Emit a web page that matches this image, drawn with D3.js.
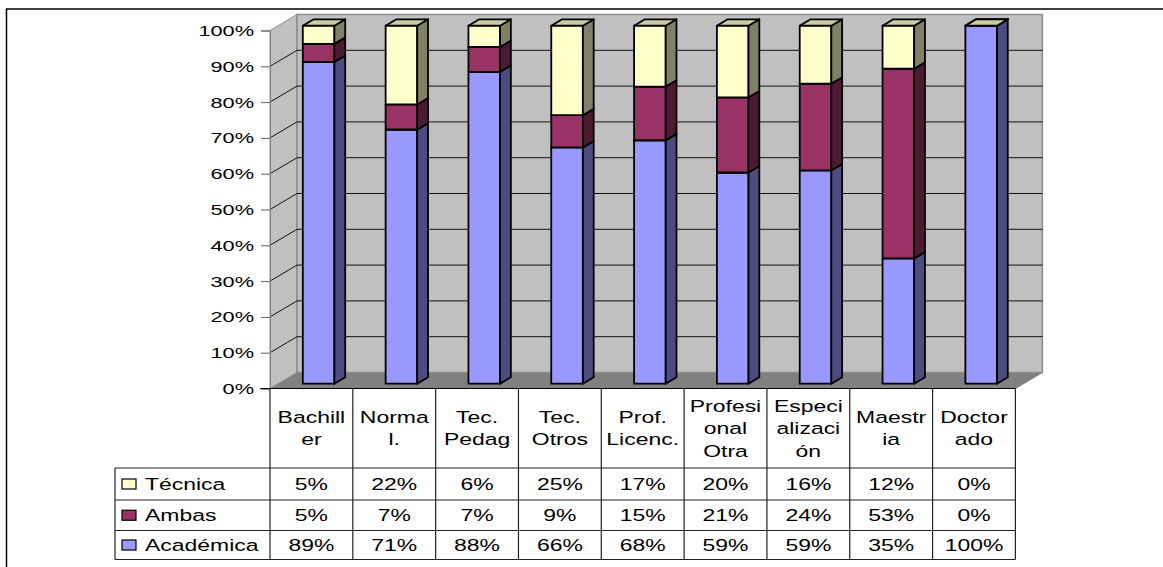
<!DOCTYPE html>
<html>
<head>
<meta charset="utf-8">
<script src="https://cdn.jsdelivr.net/npm/d3@7"></script>
<style>
  html, body { margin: 0; padding: 0; background: #fff; }
  svg { display: block; }
  text { font-family: "Liberation Sans", Arial, sans-serif; fill: #000; }
</style>
</head>
<body>
<svg id="chart" width="1163" height="567"></svg>
<script>
// ---------- data ----------
const categories = [
  ["Bachill", "er"], ["Norma", "l."], ["Tec.", "Pedag"], ["Tec.", "Otros"],
  ["Prof.", "Licenc."], ["Profesi", "onal", "Otra"], ["Especi", "alizaci", "ón"],
  ["Maestr", "ia"], ["Doctor", "ado"]
];
const seriesNames = ["Técnica", "Ambas", "Académica"];
const tecnica   = [5, 22, 6, 25, 17, 20, 16, 12, 0];
const ambas     = [5, 7, 7, 9, 15, 21, 24, 53, 0];
const academica = [89, 71, 88, 66, 68, 59, 59, 35, 100];
const yTicks = [0, 10, 20, 30, 40, 50, 60, 70, 80, 90, 100];

// ---------- layout ----------
const svg = d3.select("#chart");
const X0 = 270, X1 = 1015.4;
const Y0 = 388.5, Y1 = 30.5;
const DX = 27, DY = -16;          // wall depth
const FB = 0.30, BB = 0.70;       // bar front/back depth fractions

const colors = {
  "Académica": { front: "#9999FF", side: "#4C4C80", top: "#7A7ACC" },
  "Ambas":     { front: "#993366", side: "#4D1A33", top: "#7A2952" },
  "Técnica":   { front: "#FFFFCC", side: "#808066", top: "#CCCCA3" }
};

const idx = d3.range(categories.length);
const x = d3.scaleBand().domain(idx).range([X0, X1]).padding(0);
const y = d3.scaleLinear().domain([0, 100]).range([Y0, Y1]);

// outer frame
svg.append("path").attr("d", "M6.5,567 L6.5,9 L1163,9")
  .attr("fill", "none").attr("stroke", "#000").attr("stroke-width", 1.5);

// ---------- walls ----------
const pts = a => a.map(p => p.join(",")).join(" ");
svg.append("polygon")
  .attr("points", pts([[X0, Y0], [X1, Y0], [X1 + DX, Y0 + DY], [X0 + DX, Y0 + DY]]))
  .attr("fill", "#808080").attr("stroke", "#808080");
svg.append("polygon")
  .attr("points", pts([[X0, Y0], [X0, Y1], [X0 + DX, Y1 + DY], [X0 + DX, Y0 + DY]]))
  .attr("fill", "#C0C0C0").attr("stroke", "#8c8c8c");
svg.append("rect")
  .attr("x", X0 + DX).attr("y", Y1 + DY)
  .attr("width", X1 - X0).attr("height", Y0 - Y1)
  .attr("fill", "#C0C0C0").attr("stroke", "#8c8c8c").attr("stroke-width", 1.5);

// gridlines
const gridVals = yTicks.filter(v => v > 0 && v < 100);
svg.append("g").selectAll("path").data(gridVals).join("path")
  .attr("d", v => `M${X0},${y(v)} L${X0 + DX},${y(v) + DY} L${X1 + DX},${y(v) + DY}`)
  .attr("fill", "none").attr("stroke", "#111").attr("stroke-width", 1);

// y axis
const axisG = svg.append("g").attr("transform", `translate(${X0},0)`)
  .call(d3.axisLeft(y).tickValues(yTicks).tickSize(9).tickFormat(""));
axisG.select(".domain").attr("stroke", "#808080");
axisG.selectAll(".tick line").attr("stroke", "#606060");

function stretched(g, tx, ty, str, size, sx, anchor) {
  return g.append("text")
    .attr("transform", `translate(${tx},${ty}) scale(${sx},1)`)
    .attr("text-anchor", anchor)
    .style("font-size", size + "px")
    .text(str);
}
const labG = svg.append("g");
yTicks.forEach(v => stretched(labG, 254, y(v) + 5.5, v + "%", 15, 1.45, "end"));

// ---------- bars ----------
const rows = idx.map(i => ({ i, "Académica": academica[i], "Ambas": ambas[i], "Técnica": tecnica[i] }));
const stack = d3.stack().keys(["Académica", "Ambas", "Técnica"]).offset(d3.stackOffsetExpand);
const stacked = stack(rows);

const barG = svg.append("g");
const bfx = FB * DX, bfy = FB * DY, bbx = BB * DX, bby = BB * DY;
idx.forEach(i => {
  const xl = x(i) + 24.7 + bfx, xr = xl + 31.6;
  const ddx = bbx - bfx, ddy = bby - bfy;
  stacked.forEach(s => {
    const c = colors[s.key];
    const yb = y(s[i][0] * 100) + bfy, yt = y(s[i][1] * 100) + bfy;
    const st = { stroke: "#000", "stroke-width": 1.8, "stroke-linejoin": "round" };
    const front = barG.append("rect").attr("x", xl).attr("y", yt)
      .attr("width", xr - xl).attr("height", yb - yt).attr("fill", c.front);
    const side = barG.append("polygon")
      .attr("points", pts([[xr, yb], [xr, yt], [xr + ddx, yt + ddy], [xr + ddx, yb + ddy]]))
      .attr("fill", c.side);
    const top = barG.append("polygon")
      .attr("points", pts([[xl, yt], [xr, yt], [xr + ddx, yt + ddy], [xl + ddx, yt + ddy]]))
      .attr("fill", c.top);
    [front, side, top].forEach(el => Object.entries(st).forEach(([k, v]) => el.attr(k, v)));
  });
});

// ---------- data table ----------
const tbl = svg.append("g");
const LX = 115;
const rowY = [468, 500, 530.5, 559.5];
const lineCol = "#222";
d3.range(categories.length + 1).forEach(k => {
  const xx = k < categories.length ? x(k) : X1;
  tbl.append("line").attr("x1", xx).attr("x2", xx).attr("y1", Y0).attr("y2", rowY[3])
    .attr("stroke", lineCol).attr("stroke-width", 1.2);
});
tbl.append("line").attr("x1", X0 - 10).attr("x2", X1).attr("y1", Y0).attr("y2", Y0)
  .attr("stroke", "#000").attr("stroke-width", 1.2);
rowY.forEach(yy => tbl.append("line").attr("x1", LX).attr("x2", X1).attr("y1", yy).attr("y2", yy)
  .attr("stroke", lineCol).attr("stroke-width", 1.2));
tbl.append("line").attr("x1", LX).attr("x2", LX).attr("y1", rowY[0]).attr("y2", rowY[3])
  .attr("stroke", lineCol).attr("stroke-width", 1.2);

// header text
const TS = 17, TSX = 1.35;
categories.forEach((lines, i) => {
  const cx = x(i) + x.bandwidth() / 2;
  const n = lines.length;
  lines.forEach((ln, k) => {
    stretched(tbl, cx, 428 + 6 + (k - (n - 1) / 2) * 22.5, ln, TS, TSX, "middle");
  });
});

// rows
const seriesVals = { "Técnica": tecnica, "Ambas": ambas, "Académica": academica };
seriesNames.forEach((name, r) => {
  const cy = (rowY[r] + rowY[r + 1]) / 2;
  tbl.append("rect").attr("x", 122).attr("y", cy - 5).attr("width", 14).attr("height", 10)
    .attr("fill", colors[name].front).attr("stroke", "#000").attr("stroke-width", 1.2);
  stretched(tbl, 145, cy + 6, name, TS, TSX, "start");
  seriesVals[name].forEach((v, i) => {
    stretched(tbl, x(i) + x.bandwidth() / 2, cy + 6, v + "%", TS, TSX, "middle");
  });
});
</script>
</body>
</html>
